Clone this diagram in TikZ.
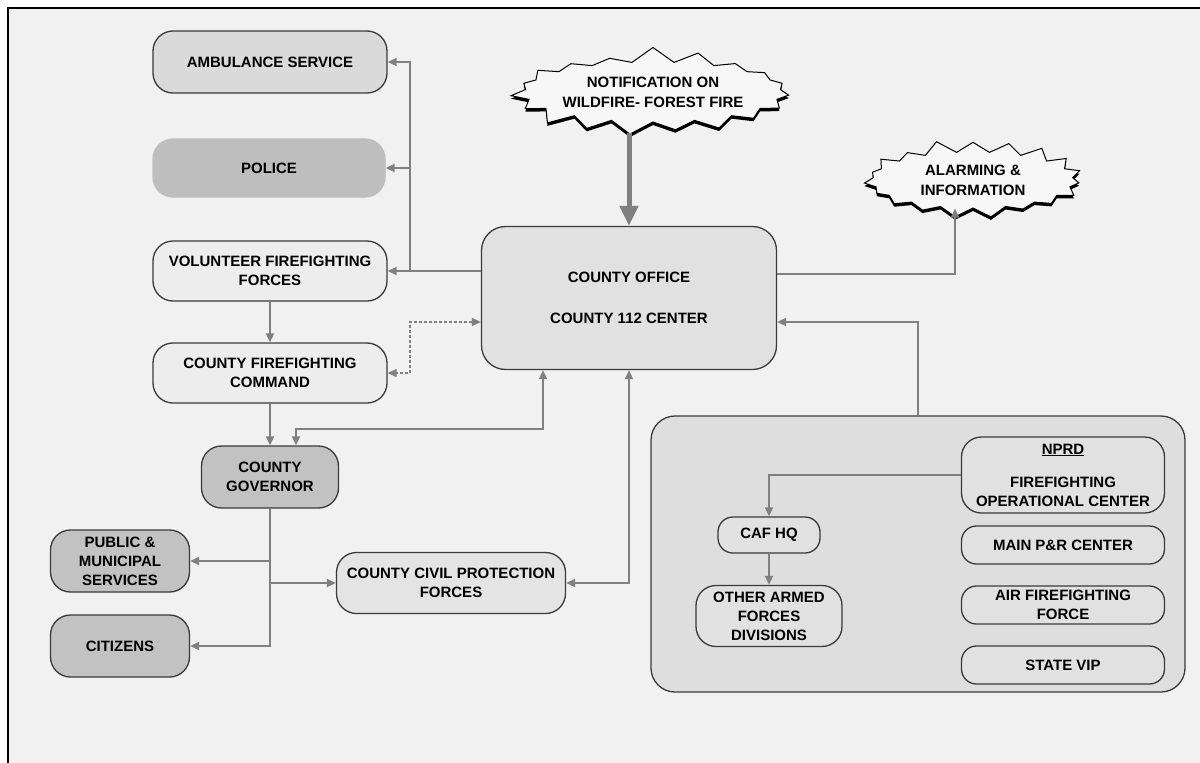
\documentclass[tikz,border=0pt]{standalone}
\usepackage{fontspec}
\setmainfont{Liberation Sans}
\usetikzlibrary{arrows.meta,shapes.symbols,shadows}
\definecolor{bgc}{HTML}{F1F1F1}
\definecolor{boxl}{HTML}{EDEDED}
\definecolor{boxm}{HTML}{DADADA}
\definecolor{boxd}{HTML}{C2C2C2}
\definecolor{polc}{HTML}{BEBEBE}
\definecolor{grpc}{HTML}{DEDEDE}
\definecolor{wire}{HTML}{808080}
\definecolor{edge}{HTML}{3A3A3A}
\tikzset{
  unit/.style={draw=edge,fill=#1,line width=1.3pt,rounded corners=20pt,align=center,
               font=\fontsize{15}{19}\selectfont\bfseries,inner sep=0pt},
  unit/.default=boxl,
  pill/.style={unit=#1,rounded corners=15pt},
  pill/.default=boxl,
  link/.style={draw=wire,line width=1.8pt,-{Triangle[length=9pt,width=8pt]}},
  twoway/.style={link,{Triangle[length=9pt,width=8pt]}-{Triangle[length=9pt,width=8pt]}},
  dlink/.style={twoway,dashed,line width=1.1pt,dash pattern=on 3pt off 2pt},
  burst/.style={starburst,starburst points=19,starburst point height=16pt,random starburst=7,
                draw=black,line width=1pt,fill=bgc!60!white,align=center,inner sep=0pt,
                font=\fontsize{15}{20}\selectfont\bfseries,
                general shadow={fill=black,shadow yshift=-3pt}},
}

\begin{document}
\begin{tikzpicture}[x=1pt,y=-1pt]
  \useasboundingbox (0,0) rectangle (1200,763);
  \fill[white] (0,0) rectangle (1200,763);
  \fill[bgc] (8,8) rectangle (1200,763);
  \draw[line width=2.5pt] (8,763) -- (8,8) -- (1200,8);
  % left column
  \node[unit=boxm,minimum width=234pt,minimum height=62pt] (amb) at (270,62) {AMBULANCE SERVICE};
  \node[unit=polc,draw=polc,minimum width=232pt,minimum height=58pt] (pol) at (269,168) {POLICE};
  \node[unit,minimum width=234pt,minimum height=60pt] (vol) at (270,271) {VOLUNTEER FIREFIGHTING\\FORCES};
  \node[unit,minimum width=234pt,minimum height=60pt] (cmd) at (270,373) {COUNTY FIREFIGHTING\\COMMAND};
  \node[unit=boxd,minimum width=137pt,minimum height=62pt] (gov) at (270,477) {COUNTY\\GOVERNOR};
  \node[unit=boxd,minimum width=139pt,minimum height=62pt] (pub) at (120,561) {PUBLIC \&\\MUNICIPAL\\SERVICES};
  \node[unit=boxd,minimum width=139pt,minimum height=62pt] (cit) at (120,646) {CITIZENS};
  \node[unit=boxl!90!black!40!boxl,minimum width=229pt,minimum height=61pt] (civ) at (451,583) {COUNTY CIVIL PROTECTION\\FORCES};
  % centre
  \node[unit=boxl!95!black,minimum width=295pt,minimum height=143pt,rounded corners=24pt] (office) at (629,298)
    {COUNTY OFFICE\\[22pt]COUNTY 112 CENTER};
  \node[burst,minimum width=262pt,minimum height=92pt] (notif) at (653,92) {NOTIFICATION ON\\WILDFIRE- FOREST FIRE};
  \node[burst,minimum width=226pt,minimum height=82pt,starburst point height=13pt,random starburst=11] (alarm) at (973,180) {ALARMING \&\\INFORMATION};
  % national level
  \node[unit=grpc,minimum width=534pt,minimum height=276pt,rounded corners=24pt] (grp) at (918,554) {};
  \node[unit=boxl!95!black,minimum width=203pt,minimum height=76pt] (nprd) at (1063,475)
    {\underline{NPRD}\\[14pt]FIREFIGHTING\\OPERATIONAL CENTER};
  \node[pill=boxl!95!black,minimum width=203pt,minimum height=38pt] (mpr) at (1063,545) {MAIN P\&R CENTER};
  \node[pill=boxl!95!black,minimum width=203pt,minimum height=38pt] (air) at (1063,605) {AIR FIREFIGHTING\\FORCE};
  \node[pill=boxl!95!black,minimum width=203pt,minimum height=38pt] (vip) at (1063,665) {STATE VIP};
  \node[pill=boxl!95!black,minimum width=102pt,minimum height=36pt] (caf) at (769,535) {CAF HQ};
  \node[unit=boxl!95!black,minimum width=146pt,minimum height=61pt] (oth) at (769,616) {OTHER ARMED\\FORCES\\DIVISIONS};
  % bus lines
  \coordinate (lx) at (410,0);
  \draw[link,line width=5pt,-{Triangle[length=20pt,width=18pt]}] ([yshift=-10pt]notif.south -| office.north) -- (office.north);
  \draw[link] ([yshift=24pt]office.east) -| ([xshift=-18pt]alarm.south);
  \draw[link] (office.west |- vol.east) -- (vol.east);
  \draw[link] (lx |- vol.east) |- (amb.east);
  \draw[link] (lx |- pol.east) -- (pol.east);
  \draw[link] (vol.south) -- (cmd.north);
  \draw[dlink] ([yshift=-24pt]office.west) -| (lx |- cmd.east) -- (cmd.east);
  \draw[link] (cmd.south) -- (gov.north);
  \draw[twoway] ([xshift=26pt]gov.north) -- ++(0,-16) -| ([xshift=-86pt]office.south);
  \draw[link] (gov.south) |- (cit.east);
  \draw[link] (gov.south |- pub.east) -- (pub.east);
  \draw[link] (gov.south |- civ.west) -- (civ.west);
  \draw[twoway] (civ.east) -| (office.south);
  \draw[link] (grp.north) |- ([yshift=-24pt]office.east);
  \draw[link] (nprd.west) -| (caf.north);
  \draw[link] (caf.south) -- (oth.north);
\end{tikzpicture}
\end{document}
